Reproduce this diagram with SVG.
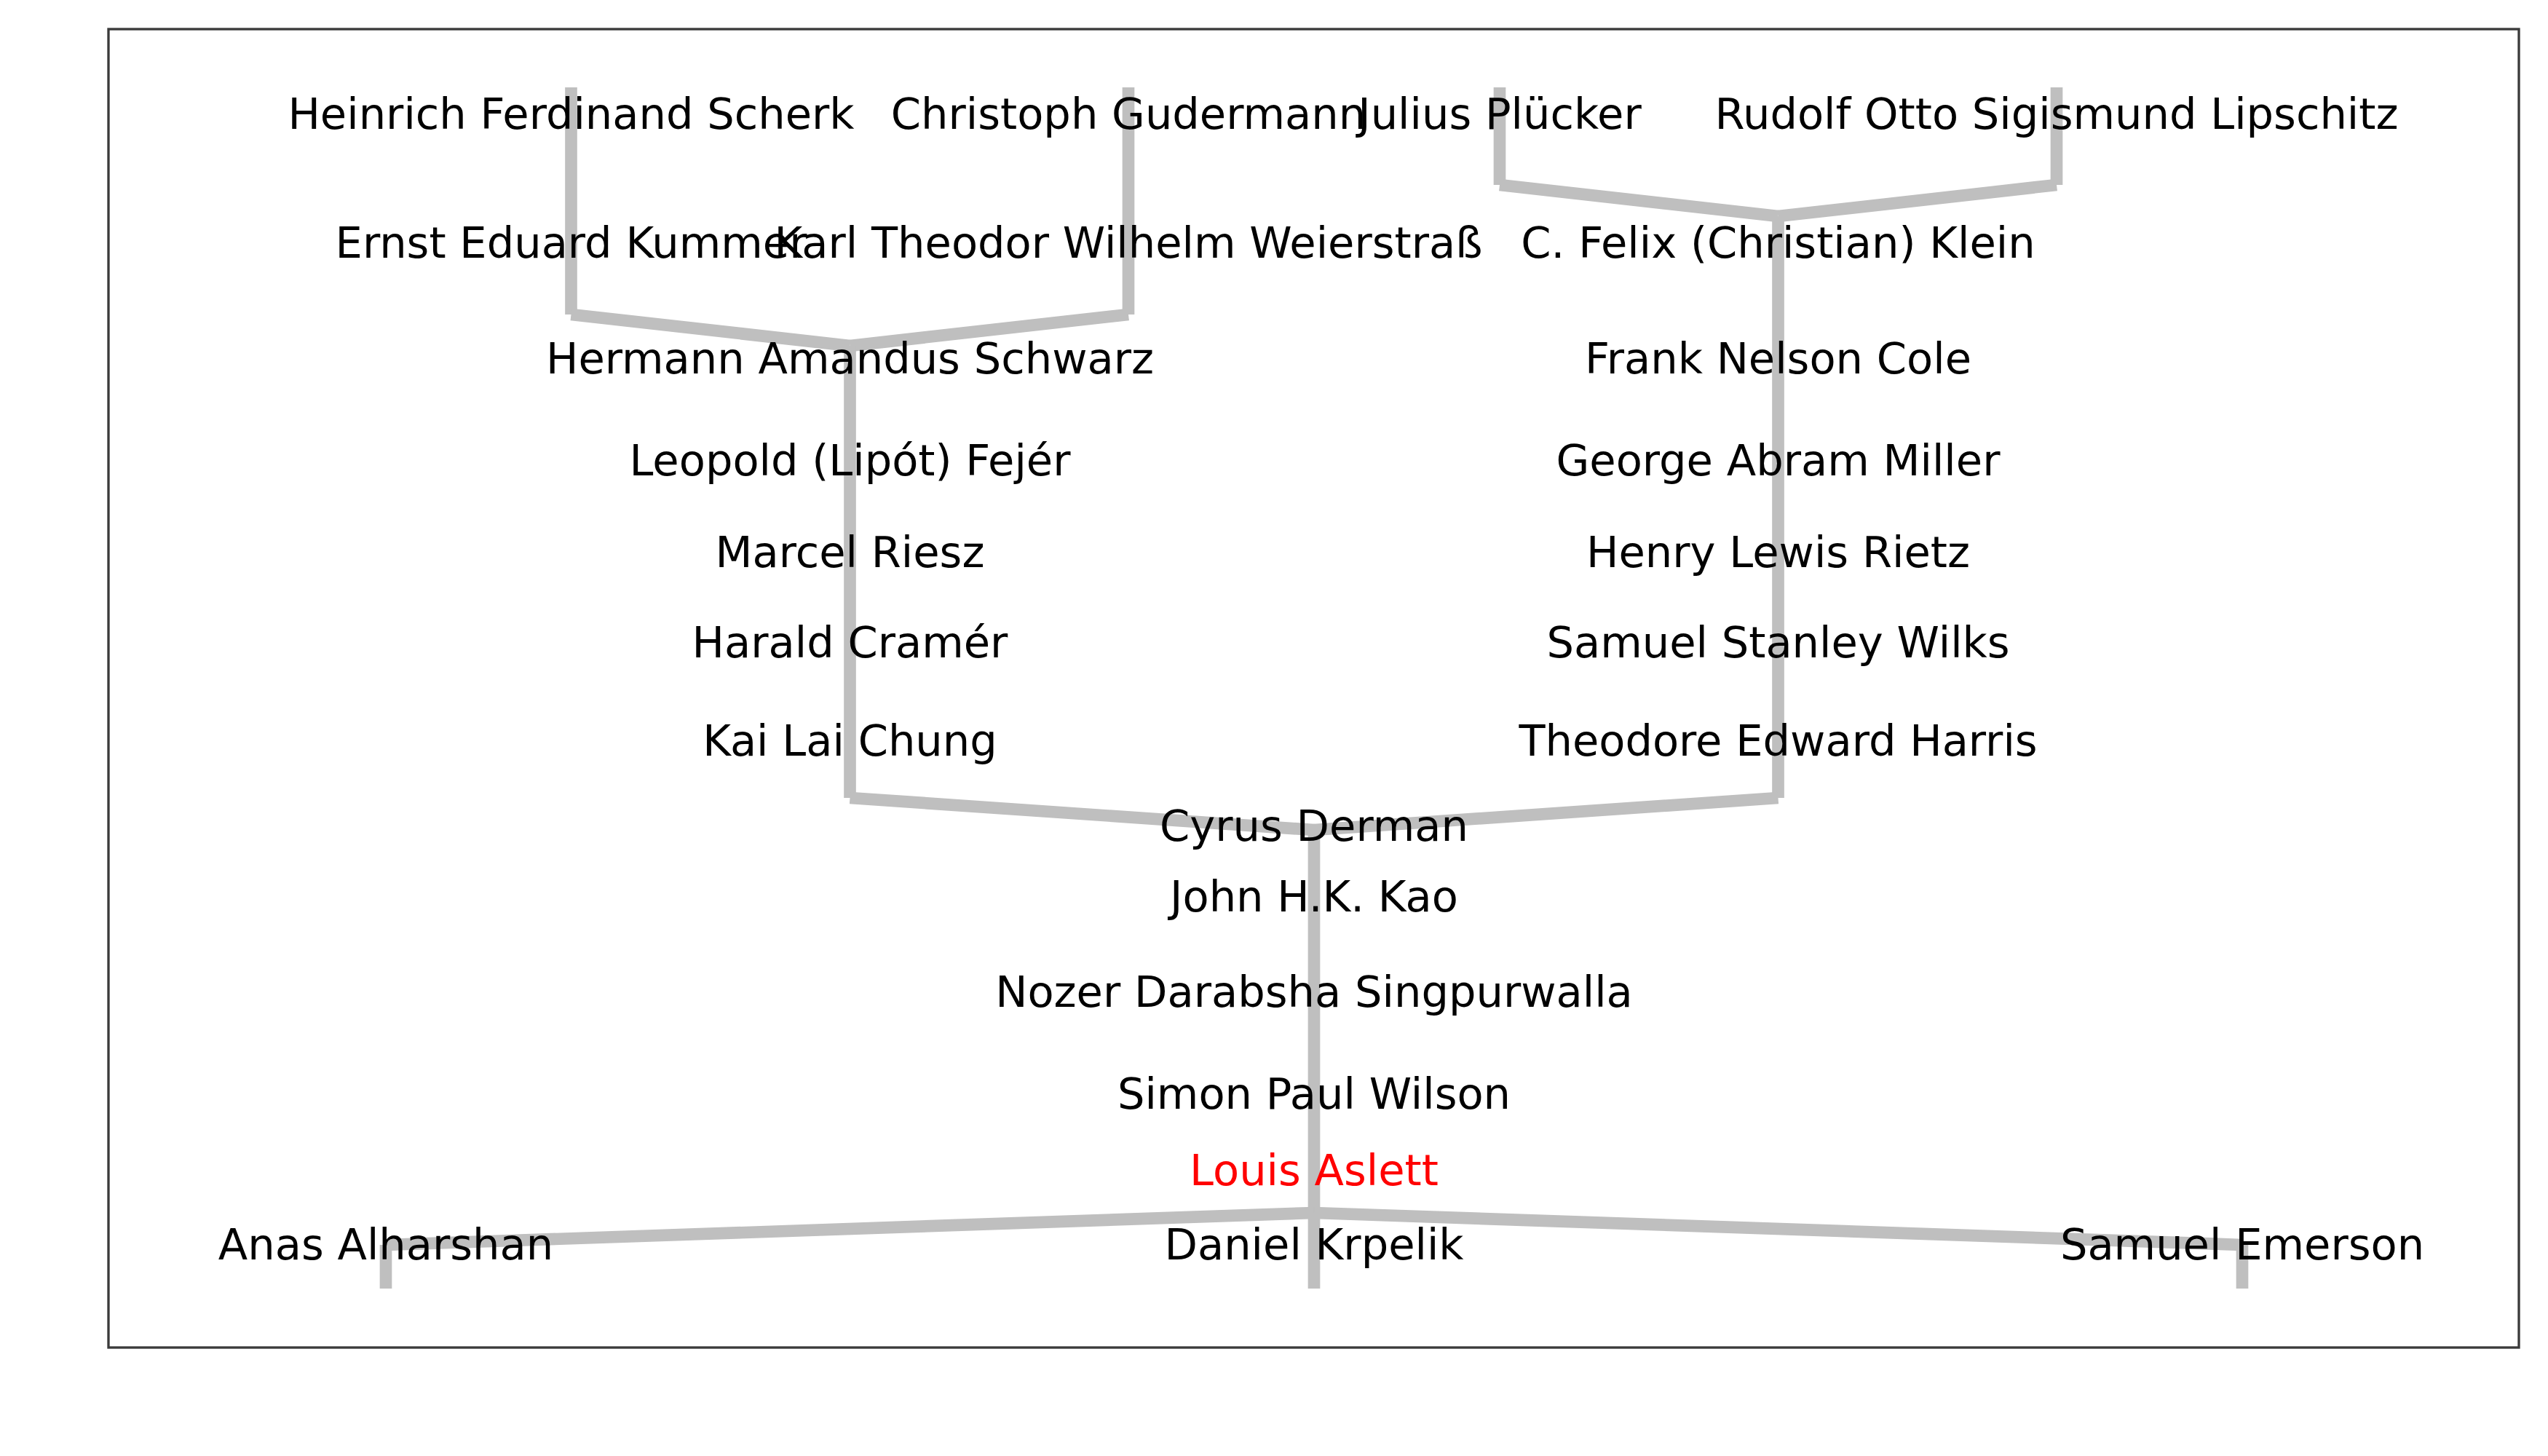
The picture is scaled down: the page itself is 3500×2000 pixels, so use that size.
<svg xmlns="http://www.w3.org/2000/svg" width="3500" height="2000" viewBox="0 0 3500 2000">
<style>
.t{font-family:"DejaVu Sans",Verdana,sans-serif;font-size:59.1px;text-anchor:middle;fill:#000}
.me{fill:#ff0000}
.c line{stroke:#bfbfbf;stroke-width:16.67;stroke-linecap:butt}
</style>
<rect width="3500" height="2000" fill="#ffffff"/>
<rect x="149" y="40" width="3311" height="1811" fill="none" stroke="#3a3a3a" stroke-width="3.33"/>
<g id="connectors" class="c">
<line x1="784.5" y1="120" x2="784.5" y2="432"/>
<line x1="784.5" y1="432" x2="1167.5" y2="475"/>
<line x1="1550" y1="120" x2="1550" y2="432"/>
<line x1="1550" y1="432" x2="1167.5" y2="475"/>
<line x1="2060" y1="120" x2="2060" y2="254"/>
<line x1="2060" y1="254" x2="2442.5" y2="297"/>
<line x1="2825" y1="120" x2="2825" y2="254"/>
<line x1="2825" y1="254" x2="2442.5" y2="297"/>
<line x1="1167.5" y1="475" x2="1167.5" y2="1096"/>
<line x1="1167.5" y1="1096" x2="1805" y2="1140"/>
<line x1="2442.5" y1="297" x2="2442.5" y2="1096"/>
<line x1="2442.5" y1="1096" x2="1805" y2="1140"/>
<line x1="1805" y1="1140" x2="1805" y2="1770"/>
<line x1="1805" y1="1666" x2="530" y2="1710"/>
<line x1="1805" y1="1666" x2="3080" y2="1710"/>
<line x1="530" y1="1710" x2="530" y2="1770"/>
<line x1="3080" y1="1710" x2="3080" y2="1770"/>
</g>
<g id="n-scherk"><text class="t" x="784.5" y="177">Heinrich Ferdinand Scherk</text></g>
<g id="n-gudermann"><text class="t" x="1550" y="177">Christoph Gudermann</text></g>
<g id="n-pluecker"><text class="t" x="2060" y="177">Julius Plücker</text></g>
<g id="n-lipschitz"><text class="t" x="2825" y="177">Rudolf Otto Sigismund Lipschitz</text></g>
<g id="n-kummer"><text class="t" x="784.5" y="354">Ernst Eduard Kummer</text></g>
<g id="n-weierstrass"><text class="t" x="1550" y="354">Karl Theodor Wilhelm Weierstraß</text></g>
<g id="n-klein"><text class="t" x="2442.5" y="354">C. Felix (Christian) Klein</text></g>
<g id="n-schwarz"><text class="t" x="1167.5" y="513">Hermann Amandus Schwarz</text></g>
<g id="n-cole"><text class="t" x="2442.5" y="513">Frank Nelson Cole</text></g>
<g id="n-fejer"><text class="t" x="1167.5" y="653">Leopold (Lipót) Fejér</text></g>
<g id="n-miller"><text class="t" x="2442.5" y="653">George Abram Miller</text></g>
<g id="n-riesz"><text class="t" x="1167.5" y="779">Marcel Riesz</text></g>
<g id="n-rietz"><text class="t" x="2442.5" y="779">Henry Lewis Rietz</text></g>
<g id="n-cramer"><text class="t" x="1167.5" y="903">Harald Cramér</text></g>
<g id="n-wilks"><text class="t" x="2442.5" y="903">Samuel Stanley Wilks</text></g>
<g id="n-chung"><text class="t" x="1167.5" y="1038">Kai Lai Chung</text></g>
<g id="n-harris"><text class="t" x="2442.5" y="1038">Theodore Edward Harris</text></g>
<g id="n-derman"><text class="t" x="1805" y="1155">Cyrus Derman</text></g>
<g id="n-kao"><text class="t" x="1805" y="1252">John H.K. Kao</text></g>
<g id="n-singpurwalla"><text class="t" x="1805" y="1383">Nozer Darabsha Singpurwalla</text></g>
<g id="n-wilson"><text class="t" x="1805" y="1523">Simon Paul Wilson</text></g>
<g id="n-aslett"><text class="t me" x="1805" y="1628">Louis Aslett</text></g>
<g id="n-alharshan"><text class="t" x="530" y="1730">Anas Alharshan</text></g>
<g id="n-krpelik"><text class="t" x="1805" y="1730">Daniel Krpelik</text></g>
<g id="n-emerson"><text class="t" x="3080" y="1730">Samuel Emerson</text></g>
</svg>
